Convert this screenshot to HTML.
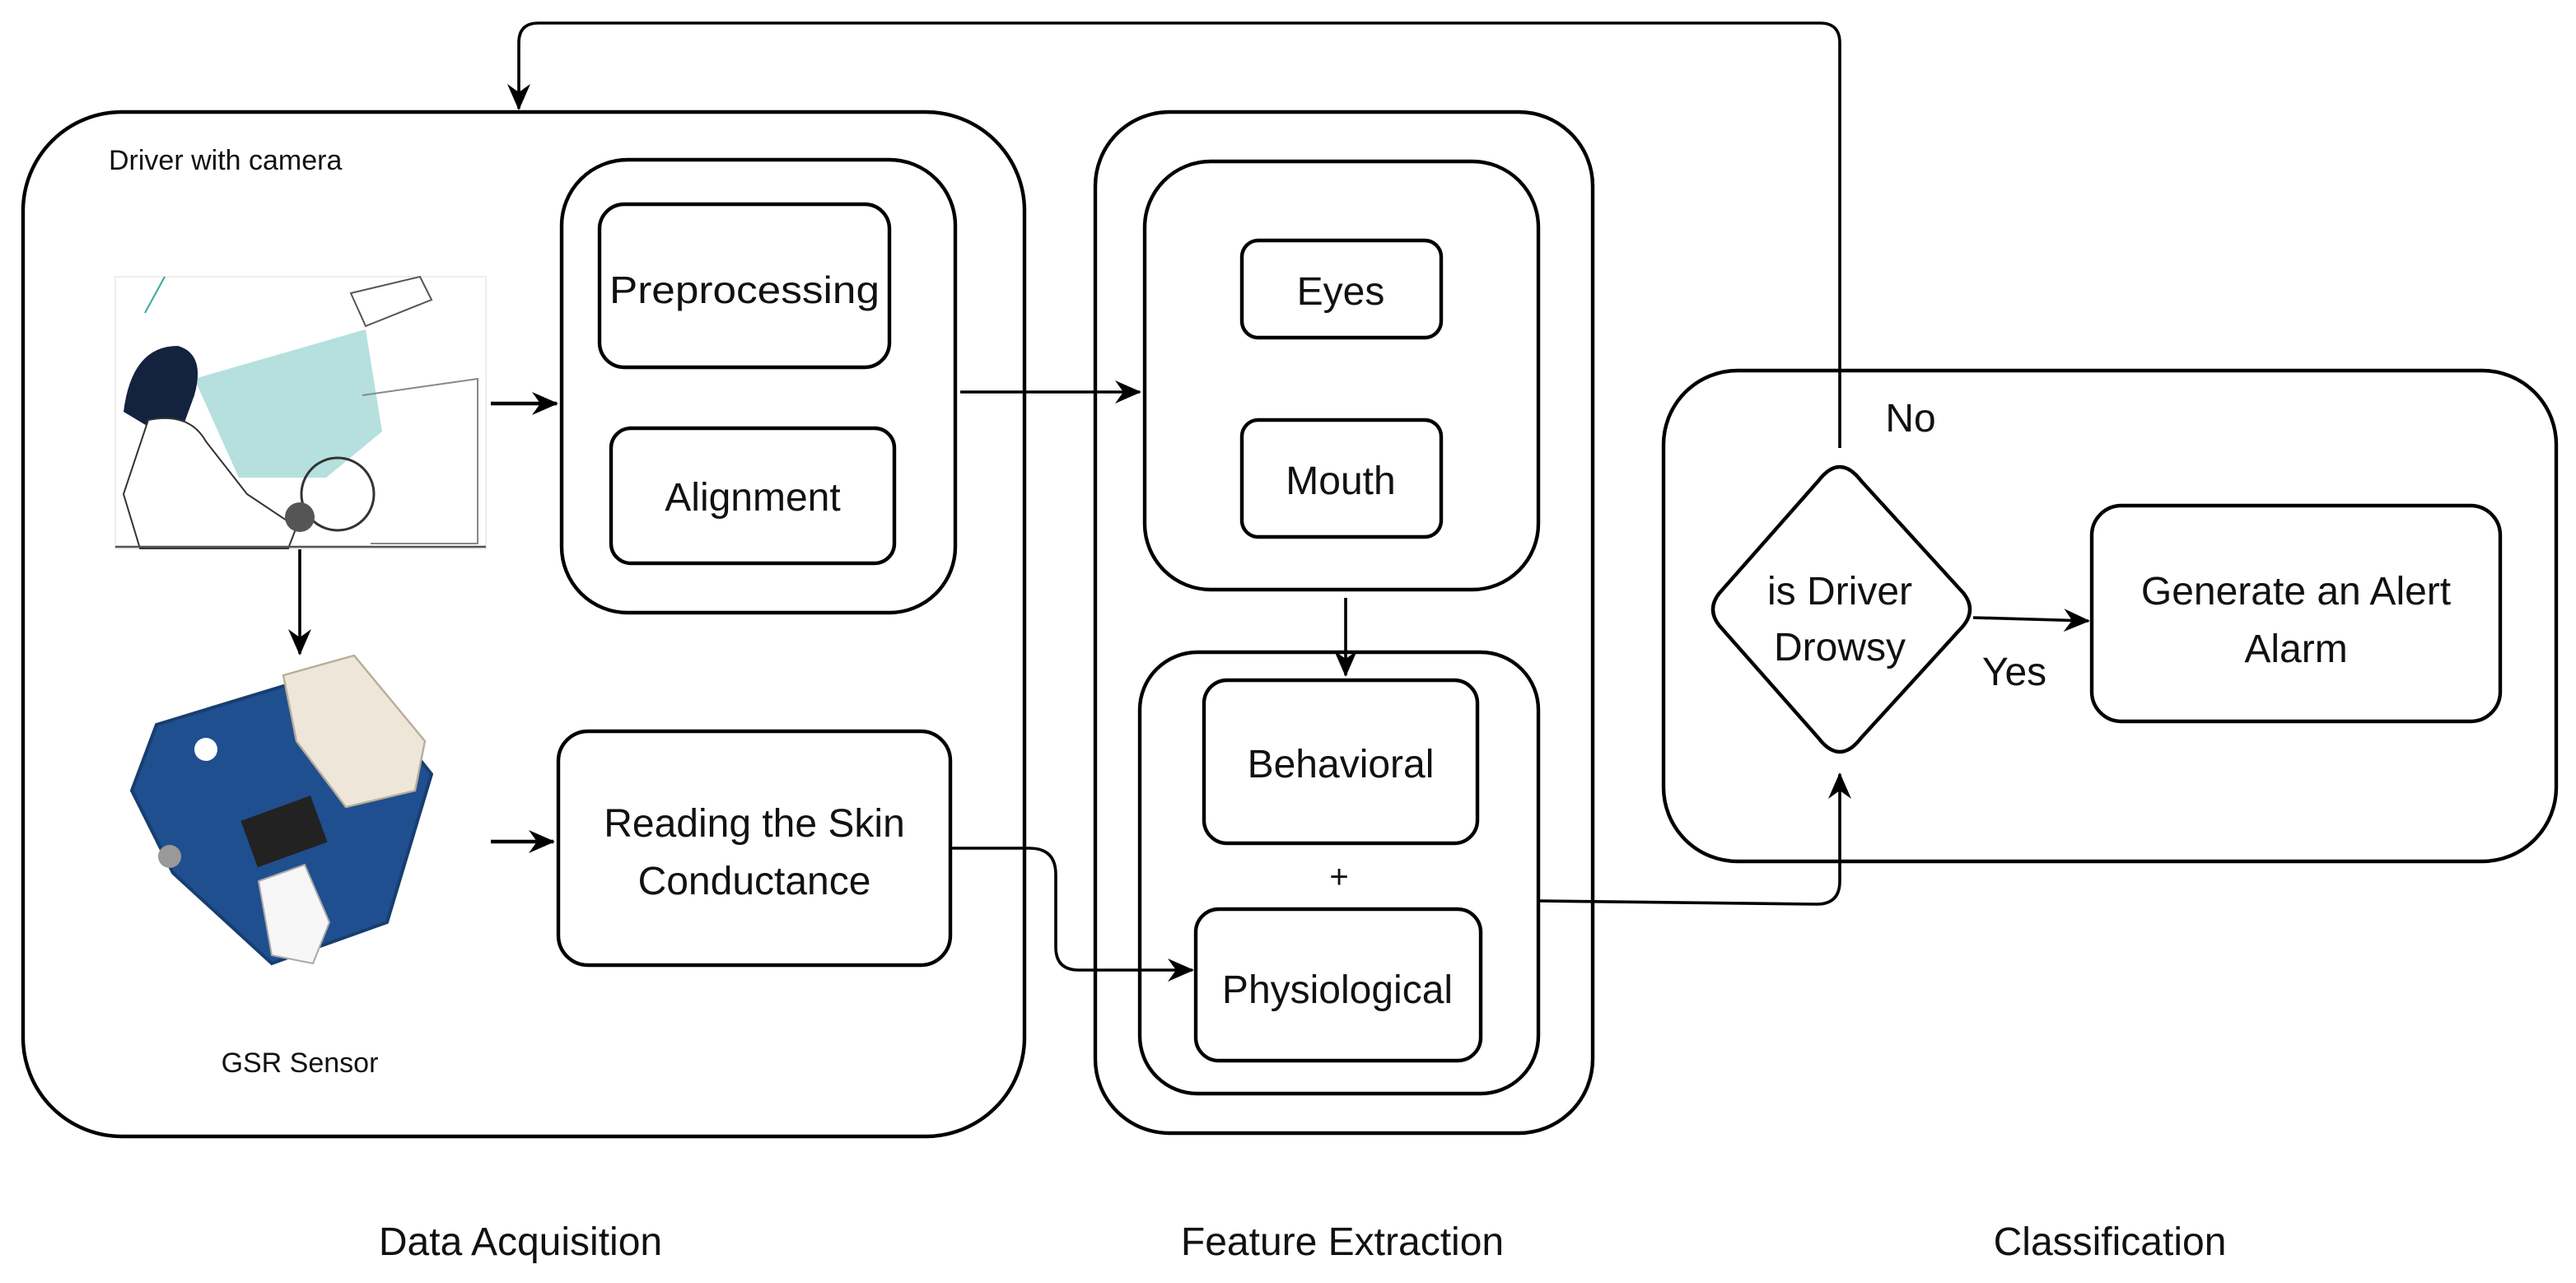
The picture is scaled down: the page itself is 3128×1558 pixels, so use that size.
<!DOCTYPE html>
<html><head><meta charset="utf-8"><style>
html,body{margin:0;padding:0;background:#fff;}
svg{display:block;}
text{font-family:"Liberation Sans",Arial,sans-serif;fill:#111;}
</style></head><body>
<svg width="3128" height="1558" viewBox="0 0 1564 779" xmlns="http://www.w3.org/2000/svg">
<defs>
<marker id="a" markerWidth="16" markerHeight="16" refX="15" refY="8" orient="auto" markerUnits="userSpaceOnUse" viewBox="0 0 16 16">
<path d="M0,1 L16,8 L0,15 L5,8 Z" fill="#000"/></marker>
</defs>
<g fill="none" stroke="#000" stroke-width="2.2">
<path d="M1117,272 V26 Q1117,14 1105,14 H327 Q315,14 315,26 V66" marker-end="url(#a)" stroke-width="1.8"/>
<rect x="14" y="68" width="608" height="622" rx="60"/>
<rect x="341" y="97" width="239" height="275" rx="40"/>
<rect x="364" y="124" width="176" height="99" rx="15"/>
<rect x="371" y="260" width="172" height="82" rx="12"/>
<rect x="339" y="444" width="238" height="142" rx="18"/>
<rect x="665" y="68" width="302" height="620" rx="45"/>
<rect x="695" y="98" width="239" height="260" rx="40"/>
<rect x="754" y="146" width="121" height="59" rx="10"/>
<rect x="754" y="255" width="121" height="71" rx="10"/>
<rect x="692" y="396" width="242" height="268" rx="35"/>
<rect x="731" y="413" width="166" height="99" rx="14"/>
<rect x="726" y="552" width="173" height="92" rx="14"/>
<rect x="1010" y="225" width="542" height="298" rx="45"/>
<rect x="1270" y="307" width="248" height="131" rx="18"/>
<path d="M1104,292 Q1117,275 1130,292 L1192,360 Q1200,370 1192,380 L1130,448 Q1117,465 1104,448 L1044,380 Q1036,370 1044,360 Z"/>
<path d="M298,245 H338" marker-end="url(#a)"/>
<path d="M182,333 V397" marker-end="url(#a)" stroke-width="1.8"/>
<path d="M298,511 H336" marker-end="url(#a)"/>
<path d="M583,238 H692" marker-end="url(#a)" stroke-width="1.8"/>
<path d="M817,363 V410" marker-end="url(#a)" stroke-width="1.8"/>
<path d="M577,515 H625 Q641,515 641,531 V575 Q641,589 655,589 H724" marker-end="url(#a)" stroke-width="1.8"/>
<path d="M935,547 L1103,549 Q1117,549 1117,535 V470" marker-end="url(#a)" stroke-width="1.8"/>
<path d="M1198,375 L1268,377" marker-end="url(#a)" stroke-width="1.8"/>
</g>
<g>
<rect x="70" y="168" width="225" height="165" fill="#fff" stroke="#eee"/>
<path d="M100,168 L88,190" stroke="#3a9" stroke-width="1"/>
<path d="M118,230 L222,200 L232,262 L198,290 L145,290 Z" fill="#b5e0de"/>
<path d="M213,178 L255,168 L262,182 L222,198 Z" fill="#fff" stroke="#555" stroke-width="1"/>
<path d="M220,240 L290,230 L290,330 L225,330" fill="none" stroke="#888" stroke-width="1"/>
<path d="M75,250 Q80,210 108,210 Q125,215 118,240 L110,262 L95,262 Z" fill="#13233f"/>
<path d="M90,255 Q115,250 125,268 L150,300 L180,320 L175,333 L85,333 L75,300 Z" fill="#fff" stroke="#333" stroke-width="1"/>
<circle cx="205" cy="300" r="22" fill="none" stroke="#333" stroke-width="1.5"/>
<line x1="70" y1="332" x2="295" y2="332" stroke="#555" stroke-width="1.2"/>
<circle cx="182" cy="314" r="9" fill="#555"/>
</g>
<g>
<path d="M95,440 L210,405 L262,470 L235,560 L165,585 L105,530 L80,480 Z" fill="#1f4f8f" stroke="#173e70" stroke-width="2"/>
<circle cx="125" cy="455" r="7" fill="#fff"/>
<circle cx="250" cy="540" r="7" fill="#fff"/>
<rect x="150" y="490" width="45" height="30" fill="#222" transform="rotate(-20 172 505)"/>
<path d="M172,410 L215,398 L258,450 L252,480 L210,490 L180,450 Z" fill="#eee6d8" stroke="#b8ad9a" stroke-width="1.2"/>
<path d="M157,535 L185,525 L200,560 L190,585 L165,580 Z" fill="#f6f6f6" stroke="#aaa" stroke-width="1"/>
<circle cx="103" cy="520" r="7" fill="#999"/>
</g>
<text x="66" y="103" font-size="17">Driver with camera</text>
<text x="182" y="651" font-size="17" text-anchor="middle">GSR Sensor</text>
<g font-size="24" text-anchor="middle">
<text x="452" y="184" font-size="23" textLength="164" lengthAdjust="spacingAndGlyphs">Preprocessing</text>
<text x="457" y="310">Alignment</text>
<text x="458" y="508">Reading the Skin</text>
<text x="458" y="543">Conductance</text>
<text x="814" y="185">Eyes</text>
<text x="814" y="300">Mouth</text>
<text x="814" y="472">Behavioral</text>
<text x="813" y="539" font-size="20">+</text>
<text x="812" y="609">Physiological</text>
<text x="1117" y="367">is Driver</text>
<text x="1117" y="401">Drowsy</text>
<text x="1394" y="367">Generate an Alert</text>
<text x="1394" y="402">Alarm</text>
<text x="1223" y="416">Yes</text>
<text x="1160" y="262">No</text>
<text x="316" y="762">Data Acquisition</text>
<text x="815" y="762">Feature Extraction</text>
<text x="1281" y="762">Classification</text>
</g>
</svg>
</body></html>
